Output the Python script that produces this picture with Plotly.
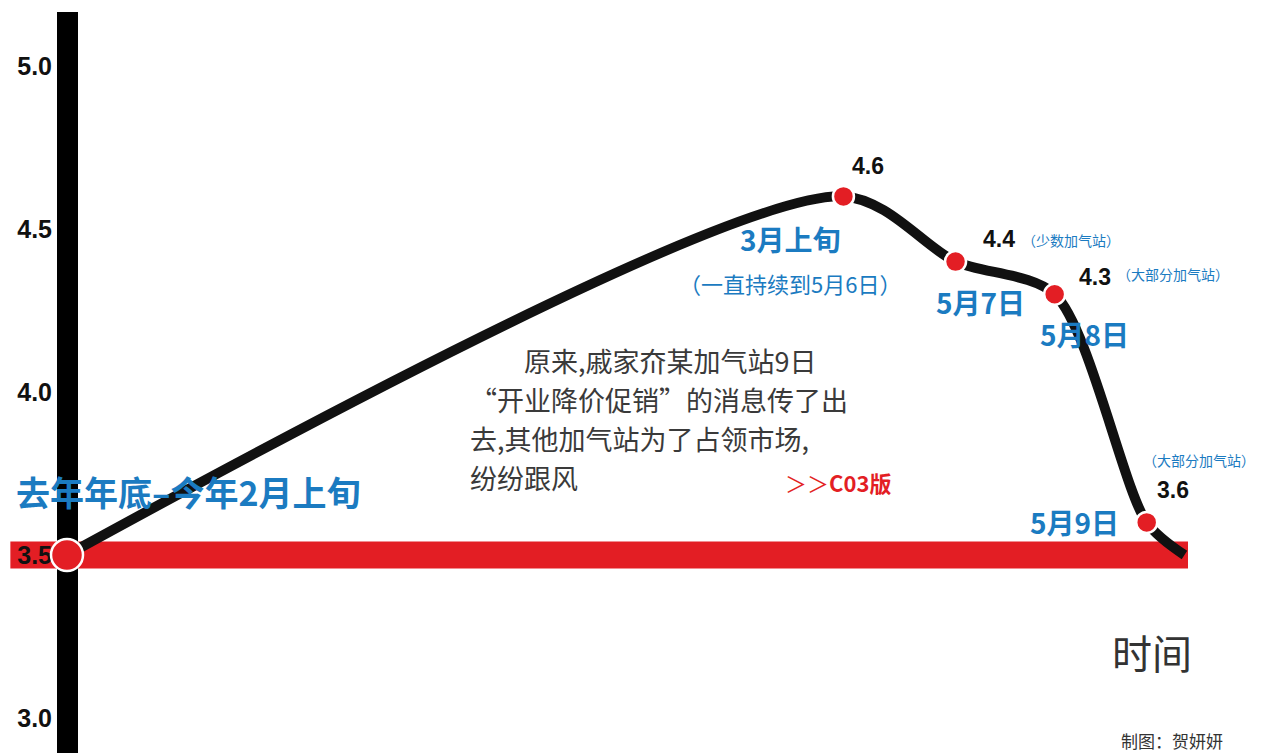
import plotly.graph_objects as go

# ---- data ----
point_dates = ["去年年底–今年2月上旬", "3月上旬", "5月7日", "5月8日", "5月9日"]
timeline_pos = [0.0, 6.58, 7.53, 8.37, 9.15]          # schematic position on the time axis
prices = [3.5, 4.6, 4.4, 4.3, 3.6]                     # price level
price_labels = ["3.5", "4.6", "4.4", "4.3", "3.6"]
point_notes = ["", "（一直持续到5月6日）", "（少数加气站）", "（大部分加气站）", "（大部分加气站）"]
end_pos = 9.47                                          # end of the time line
end_price = 3.5
base_price = 3.5
ytick_vals = [3.0, 3.5, 4.0, 4.5, 5.0]
ytick_text = ["3.0", "3.5", "4.0", "4.5", "5.0"]
para_lines = ["　　原来,戚家夼某加气站9日", "“开业降价促销”的消息传了出",
              "去,其他加气站为了占领市场,", "纷纷跟风"]

BLUE = "#1b7bc1"
RED = "#e31e24"
CJK = "Noto Sans CJK SC"
NUM = "Liberation Sans"

W, H = 1265, 753

fig = go.Figure()

# curve
fig.add_trace(go.Scatter(
    x=timeline_pos + [end_pos], y=prices + [end_price],
    mode="lines", line=dict(color="#111111", width=10, shape="spline", smoothing=0.8),
    hoverinfo="skip", showlegend=False,
))
# points
fig.add_trace(go.Scatter(
    x=timeline_pos, y=prices, mode="markers",
    marker=dict(color=RED, size=[32, 21, 21, 21, 21], opacity=1,
                line=dict(color="white", width=2.5)),
    hoverinfo="skip", showlegend=False,
))

# red base bar at 3.5
fig.add_shape(type="line", xref="x", yref="y", x0=-0.48, x1=end_pos + 0.03,
              y0=base_price, y1=base_price, line=dict(color=RED, width=27), layer="below")

ann = []

def lab(i, text, dx, dy, size, color, family, bold=False, anchor="center"):
    t = f"<b>{text}</b>" if bold else text
    ann.append(dict(x=timeline_pos[i], y=prices[i], xref="x", yref="y", text=t,
                    showarrow=False, xshift=dx, yshift=-dy, xanchor=anchor, yanchor="middle",
                    font=dict(size=size, color=color, family=family)))

# start
lab(0, point_dates[0], 121, -64, 34, BLUE, CJK, bold=True)
# peak
lab(1, price_labels[1], 25, -30, 23, "#111111", NUM, bold=True)
lab(1, point_dates[1], -53, 43, 28, BLUE, CJK, bold=True)
lab(1, point_notes[1], -53, 87, 22, BLUE, CJK)
# 5/7
lab(2, price_labels[2], 43, -23, 23, "#111111", NUM, bold=True)
lab(2, point_notes[2], 64, -22, 14, BLUE, CJK, anchor="left")
lab(2, point_dates[2], 25, 40, 28, BLUE, CJK, bold=True)
# 5/8
lab(3, price_labels[3], 40, -17, 23, "#111111", NUM, bold=True)
lab(3, point_notes[3], 60, -20, 14, BLUE, CJK, anchor="left")
lab(3, point_dates[3], 30, 40, 28, BLUE, CJK, bold=True)
# 5/9
lab(4, point_notes[4], 52, -62, 14, BLUE, CJK)
lab(4, price_labels[4], 26, -32, 23, "#111111", NUM, bold=True)
lab(4, point_dates[4], -72, 0, 28, BLUE, CJK, bold=True)

# paragraph, one annotation per line
for k, line in enumerate(para_lines):
    ann.append(dict(x=468 / W, y=1 - (360 + 39 * k) / H, xref="paper", yref="paper",
                    text=line, showarrow=False, xanchor="left", yanchor="middle",
                    font=dict(size=27, color="#3a3a3a", family=CJK)))
ann.append(dict(x=893 / W, y=1 - 482 / H, xref="paper", yref="paper",
                text="＞＞<b>C03版</b>", showarrow=False, xanchor="right", yanchor="middle",
                font=dict(size=22, color=RED, family=CJK)))
# axis title
ann.append(dict(x=1152 / W, y=1 - 652 / H, xref="paper", yref="paper", text="时间",
                showarrow=False, xanchor="center", yanchor="middle",
                font=dict(size=40, color="#333333", family=CJK)))
# credit
ann.append(dict(x=1172 / W, y=1 - 740 / H, xref="paper", yref="paper", text="制图：贺妍妍",
                showarrow=False, xanchor="center", yanchor="middle",
                font=dict(size=17, color="#333333", family=CJK)))

px_per_x = 118.0
x0_px = 67.0
px_per_y = 326.0
y5_px = 66.0
top_px = 12.0

fig.update_layout(
    width=W, height=H,
    margin=dict(l=0, r=0, t=0, b=0),
    paper_bgcolor="white", plot_bgcolor="white",
    annotations=ann,
    xaxis=dict(range=[-x0_px / px_per_x, (W - x0_px) / px_per_x], visible=False, fixedrange=True),
    yaxis=dict(
        range=[5.0 - (H - y5_px) / px_per_y, 5.0 + (y5_px - top_px) / px_per_y],
        domain=[0, 1 - top_px / H],
        anchor="free", position=x0_px / W,
        showline=True, linewidth=21, linecolor="#000000",
        showgrid=False, zeroline=False, ticks="",
        tickvals=ytick_vals, ticktext=ytick_text,
        tickfont=dict(size=25, color="#111111", family=NUM, weight="bold"),
        layer="below traces", fixedrange=True,
    ),
)

fig.write_html("out.html", config={"displayModeBar": False},
               post_script="document.body.style.margin='0';document.body.style.overflow='hidden';")
